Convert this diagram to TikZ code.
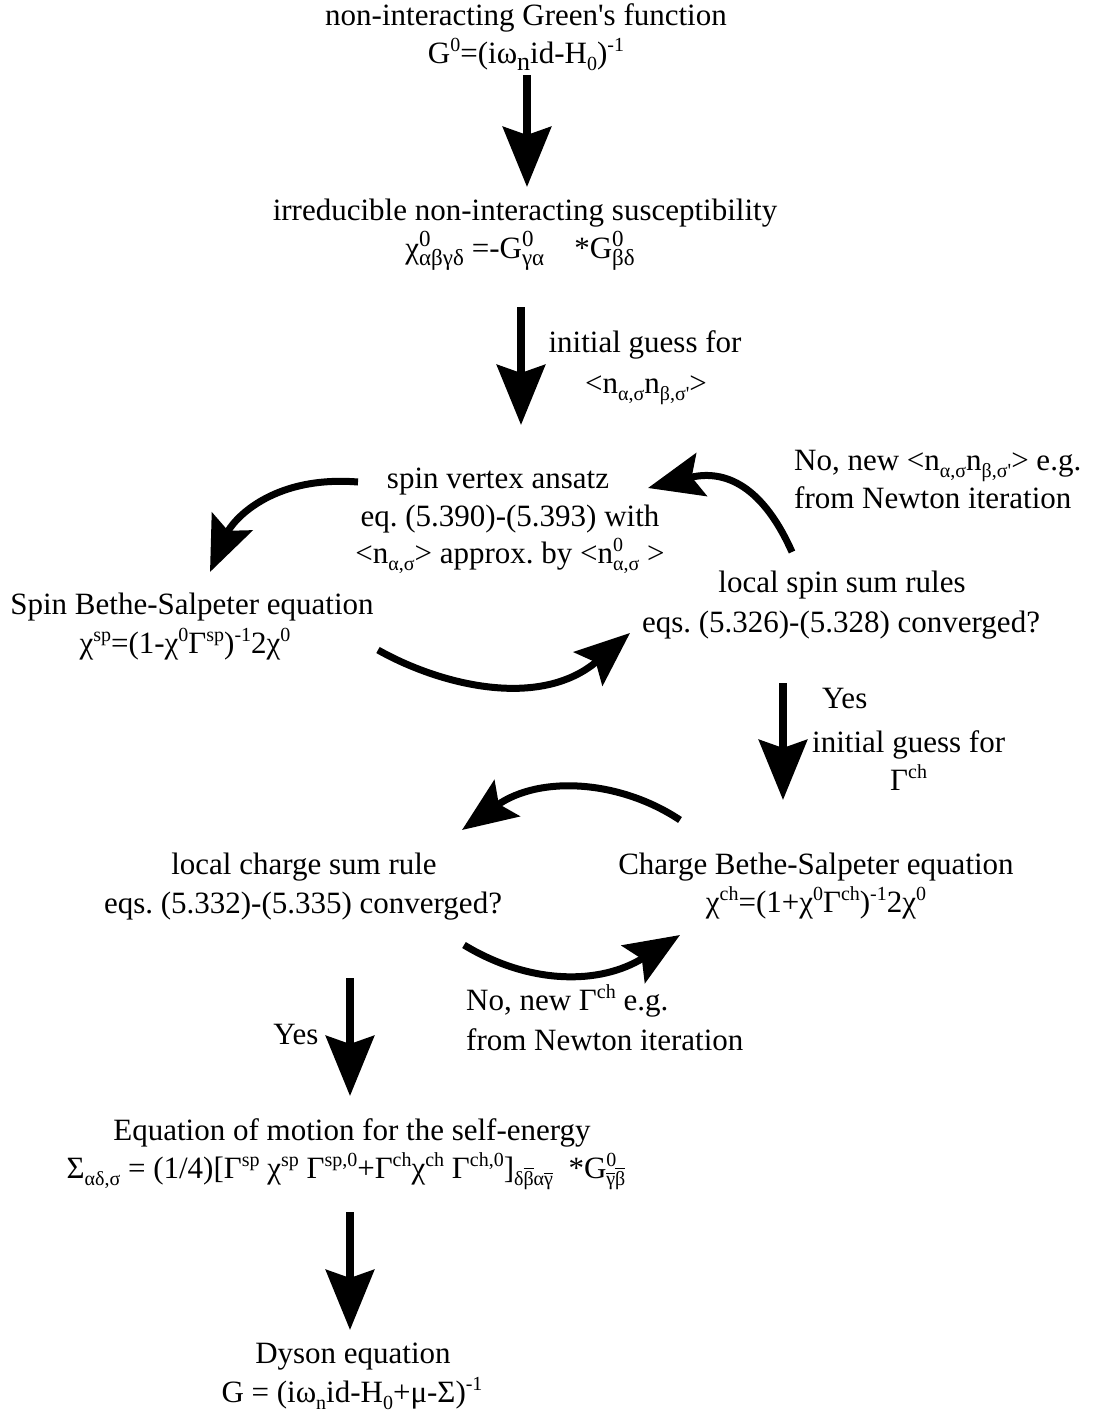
\documentclass[tikz,border=0pt]{standalone}
\usepackage{fontspec}
\setmainfont{Liberation Serif}[Ligatures=TeXOff]
\usetikzlibrary{arrows.meta}
\frenchspacing
\newcommand\SP[1]{\raisebox{12pt}{\fontsize{20}{20}\selectfont #1}}
\newcommand\SB[1]{\raisebox{-7pt}{\fontsize{20}{20}\selectfont #1}}
\newcommand\SPB[2]{{\fontsize{20}{20}\selectfont\setbox0\hbox{#1}\setbox2\hbox{#2}%
  \ifdim\wd0>\wd2 \rlap{\raisebox{-7pt}{\copy2}}\raisebox{12pt}{\copy0}%
  \else\rlap{\raisebox{12pt}{\copy0}}\raisebox{-7pt}{\copy2}\fi}}
\newcommand\SPBL[2]{{\fontsize{23}{23}\selectfont\setbox0\hbox{#1}\setbox2\hbox{#2}%
  \ifdim\wd0>\wd2 \rlap{\raisebox{-7pt}{\copy2}}\raisebox{12pt}{\copy0}%
  \else\rlap{\raisebox{12pt}{\copy0}}\raisebox{-7pt}{\copy2}\fi}}
\newcommand\OB[1]{{\setbox4\hbox{#1}\rlap{\raisebox{\dimexpr\ht4+1.5pt\relax}{\rule{\wd4}{1pt}}}\copy4}}
\begin{document}
\frenchspacing
\begin{tikzpicture}[x=1pt,y=-1pt,
  txt/.style={anchor=base,inner sep=0pt,font=\fontsize{31}{38}\selectfont\frenchspacing},
  txtl/.style={txt,anchor=base west},
  bigarrow/.style={line width=8pt,-{Stealth[length=60pt,width=48pt,inset=8pt]}},
  curvearrow/.style={line width=7pt,-{Stealth[length=55pt,width=44pt,inset=10pt]}}]
\useasboundingbox (0,0) rectangle (1100,1417);
% texts
\node[txt] (g0a) at (526,25) {non-interacting Green's function};
\node[txt] (g0b) at (526,63) {G\SP{0}=(iω\raisebox{-7pt}{\fontsize{26}{26}\selectfont n}id-H\SB{0})\SP{-1}};
\node[txt] (chia) at (525,220) {irreducible non-interacting susceptibility};
\node[txt] (chib) at (520,258) {χ\SPBL{0}{αβγδ}\hspace{8pt}=-G\SPBL{0}{γα}\hspace{30pt}*G\SPBL{0}{βδ}};
\node[txt] (iga) at (645,352) {initial guess for};
\node[txt] (igb) at (646,393) {<n\SB{α,σ}n\SB{β,σ'}>};
\node[txt] (sva) at (498,488) {spin vertex ansatz};
\node[txt] (svb) at (510,526) {eq. (5.390)-(5.393) with};
\node[txt] (svc) at (510,563) {<n\SB{α,σ}> approx. by <n\SPB{0}{α,σ} >};
\node[txtl] (noa) at (794,470) {No, new <n\SB{α,σ}n\SB{β,σ'}> e.g.};
\node[txtl] (nob) at (794,508) {from Newton iteration};
\node[txt] (sbsa) at (192,614) {Spin Bethe-Salpeter equation};
\node[txt] (sbsb) at (185,653) {χ\SP{sp}=(1-χ\SP{0}Γ\SP{sp})\SP{-1}2χ\SP{0}};
\node[txt] (lssa) at (842,592) {local spin sum rules};
\node[txt] (lssb) at (841,632) {eqs. (5.326)-(5.328) converged?};
\node[txtl] (yes1) at (822,708) {Yes};
\node[txtl] (ig2a) at (812,752) {initial guess for};
\node[txtl] (ig2b) at (890,790) {Γ\SP{ch}};
\node[txt] (lcsa) at (304,874) {local charge sum rule};
\node[txt] (lcsb) at (303,913) {eqs. (5.332)-(5.335) converged?};
\node[txt] (cbsa) at (816,874) {Charge Bethe-Salpeter equation};
\node[txt] (cbsb) at (816,912) {χ\SP{ch}=(1+χ\SP{0}Γ\SP{ch})\SP{-1}2χ\SP{0}};
\node[txtl] (no2a) at (466,1010) {No, new Γ\SP{ch} e.g.};
\node[txtl] (no2b) at (466,1050) {from Newton iteration};
\node[txt] (yes2) at (296,1044) {Yes};
\node[txt] (eoma) at (352,1140) {Equation of motion for the self-energy};
\node[txt] (eomb) at (346,1178) {Σ\SB{αδ,σ} = (1/4)[Γ\SP{sp} χ\SP{sp} Γ\SP{sp,0}+Γ\SP{ch}χ\SP{ch} Γ\SP{ch,0}]\SB{δ\OB{β}α\OB{γ}}\ \ *G\SPB{0}{\OB{γ}\OB{β}}};
\node[txt] (dya) at (353,1363) {Dyson equation};
\node[txt] (dyb) at (352,1402) {G = (iω\SB{n}id-H\SB{0}+μ-Σ)\SP{-1}};
% arrow end points
\coordinate (a1s) at (527,75);   \coordinate (a1e) at (527,187);
\coordinate (a2s) at (521,307);  \coordinate (a2e) at (521,425);
\coordinate (a3s) at (783,683);  \coordinate (a3e) at (783,800);
\coordinate (a4s) at (350,978);  \coordinate (a4e) at (350,1096);
\coordinate (a5s) at (350,1212); \coordinate (a5e) at (350,1330);
\coordinate (c1s) at (358,482);  \coordinate (c1e) at (210,572);
\coordinate (c2s) at (378,650);  \coordinate (c2e) at (630,633);
\coordinate (c3s) at (792,552);  \coordinate (c3e) at (648,488);
\coordinate (c4s) at (680,820);  \coordinate (c4e) at (462,830);
\coordinate (c5s) at (464,945);  \coordinate (c5e) at (680,935);
% straight arrows
\draw[bigarrow] (a1s) -- (a1e);
\draw[bigarrow] (a2s) -- (a2e);
\draw[bigarrow] (a3s) -- (a3e);
\draw[bigarrow] (a4s) -- (a4e);
\draw[bigarrow] (a5s) -- (a5e);
% curved arrows
\draw[curvearrow] (c1s) .. controls (270,475) and (232,522) .. (c1e);
\draw[curvearrow] (c2s) .. controls (440,685) and (540,710) .. (c2e);
\draw[curvearrow] (c3s) .. controls (760,480) and (720,470) .. (c3e);
\draw[curvearrow] (c4s) .. controls (620,780) and (540,775) .. (c4e);
\draw[curvearrow] (c5s) .. controls (530,985) and (600,985) .. (c5e);
\end{tikzpicture}
\end{document}
